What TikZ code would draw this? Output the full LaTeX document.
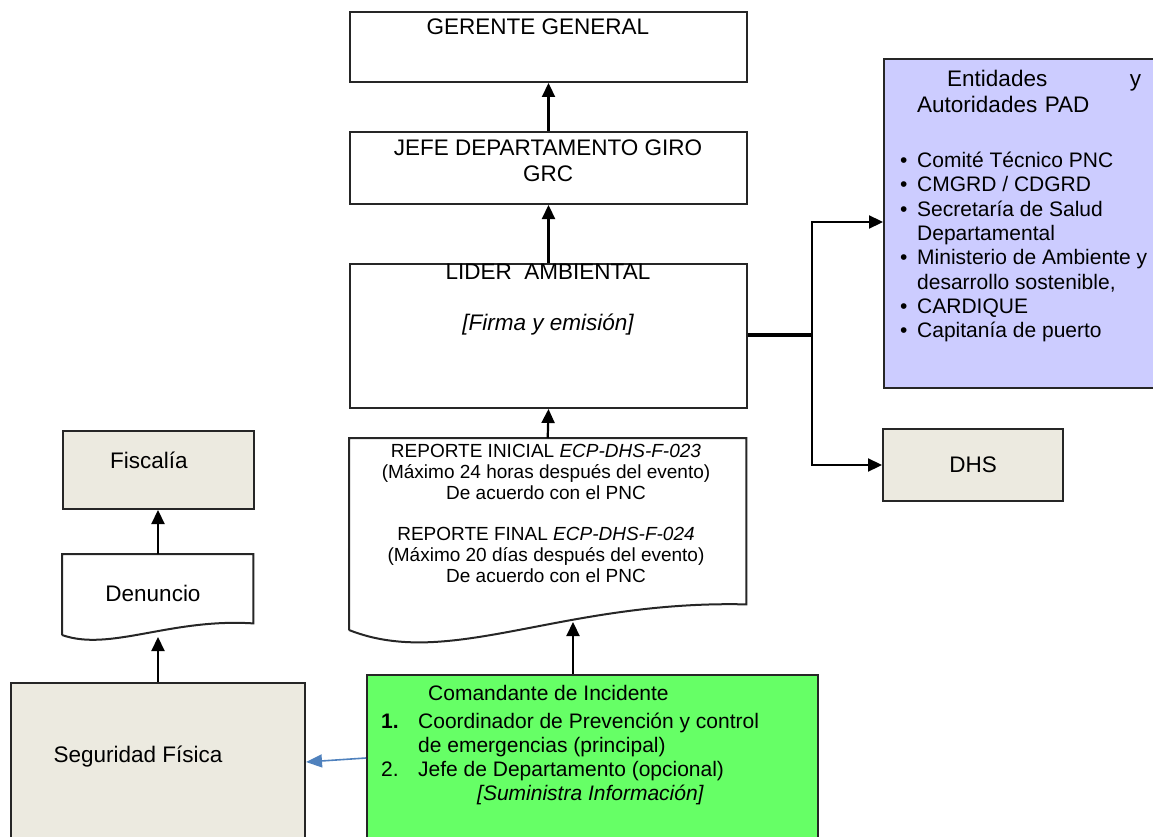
\documentclass[tikz,border=0pt]{standalone}
\usepackage{fontspec}
\setmainfont{Liberation Sans}
\usetikzlibrary{arrows.meta,positioning}

\definecolor{beige}{HTML}{ECEAE0}
\definecolor{lila}{HTML}{CCCCFF}
\definecolor{verde}{HTML}{66FF66}
\definecolor{azul}{HTML}{4F81BD}

\tikzset{
  caja/.style={draw=black!85, line width=2pt, rectangle, inner sep=0pt, anchor=north west},
  texto/.style={anchor=base, inner sep=0pt, font=\fontsize{22.5}{26}\selectfont},
  flecha/.style={line width=2.2pt, -{Triangle[length=14pt,width=13pt]}},
}

\begin{document}
\begin{tikzpicture}[x=1pt, y=-1pt]
    \useasboundingbox (0,0) rectangle (1153,837);

    % cadena central
    \node[caja, minimum width=397pt, minimum height=70pt] (gerente) at (349,11) {};
    \node[texto] (gerente-t) at (538,35) {GERENTE GENERAL};

    \node[caja, minimum width=397pt, minimum height=72pt] (jefe) at (349,131) {};
    \node[texto, anchor=north, align=center, font=\fontsize{22.5}{26}\selectfont] (jefe-t) at (548,140) {JEFE DEPARTAMENTO GIRO\\GRC};

    \node[caja, minimum width=397pt, minimum height=144pt] (lider) at (349,263) {};
    \node[texto] (lider-t) at (548,279) {LIDER\ \ AMBIENTAL};
    \node[texto, font=\fontsize{22.5}{26}\selectfont\itshape] (lider-s) at (548,330) {[Firma y emisión]};

    % reportes (documento)
    \node[inner sep=0pt, minimum width=397pt, minimum height=166pt, anchor=north west] (reporte) at (349,438) {};
    \draw[draw=black!85, line width=2pt] (349,630) |- (reporte.north east) -- (reporte.south east)
        .. controls (560,600) and (450,670) .. (349,630);
    \node[anchor=north, inner sep=0pt, align=center, font=\fontsize{19}{21}\selectfont] (reporte-t) at (546,444)
        {REPORTE INICIAL \textit{ECP-DHS-F-023}\\
         (Máximo 24 horas después del evento)\\
         De acuerdo con el PNC\\[20pt]
         REPORTE FINAL \textit{ECP-DHS-F-024}\\
         (Máximo 20 días después del evento)\\
         De acuerdo con el PNC};
    \coordinate (reporte-w) at (573,622);

    % comandante
    \node[caja, fill=verde, minimum width=451pt, minimum height=175pt] (comandante) at (366,674) {};
    \node[anchor=north west, inner sep=0pt, align=left, font=\fontsize{21}{24}\selectfont] (comandante-t) at (381,685)
        {\hspace*{47pt}Comandante de Incidente\\[4pt]
         \makebox[37pt][l]{\textbf{1.}}Coordinador de Prevención y control\\
         \hspace*{37pt}de emergencias (principal)\\
         \makebox[37pt][l]{2.}Jefe de Departamento (opcional)\\
         \hspace*{96pt}\textit{[Suministra Información]}};

    % rama izquierda
    \node[caja, fill=beige, minimum width=294pt, minimum height=160pt] (seguridad) at (10,682) {};
    \node[texto] (seguridad-t) at (138,762) {Seguridad Física};

    \node[inner sep=0pt, minimum width=191pt, minimum height=69pt, anchor=north west] (denuncio) at (62,554) {};
    \draw[draw=black!85, line width=2pt] (62,635) |- (denuncio.north east) -- (denuncio.south east)
        .. controls (170,618) and (110,652) .. (62,635);
    \node[texto] (denuncio-t) at (153,601) {Denuncio};
    \coordinate (denuncio-w) at (158,637);

    \node[caja, fill=beige, minimum width=191pt, minimum height=78pt] (fiscalia) at (62,430) {};
    \node[texto] (fiscalia-t) at (149,468) {Fiscalía};

    % rama derecha
    \node[caja, fill=lila, minimum width=275pt, minimum height=329pt] (entidades) at (883,58) {};
    \node[anchor=north west, inner sep=0pt, align=left, text width=224pt, font=\fontsize{22.5}{26}\selectfont] (entidades-t) at (917,70)
        {\hspace*{30pt}Entidades\hfill y\\Autoridades PAD};
    \node[anchor=north west, inner sep=0pt, align=left, font=\fontsize{21}{24.3}\selectfont] (entidades-l) at (900,152)
        {\makebox[17pt][l]{\textbullet}Comité Técnico PNC\\
         \makebox[17pt][l]{\textbullet}CMGRD / CDGRD\\
         \makebox[17pt][l]{\textbullet}Secretaría de Salud\\
         \hspace*{17pt}Departamental\\
         \makebox[17pt][l]{\textbullet}Ministerio de Ambiente y\\
         \hspace*{17pt}desarrollo sostenible,\\
         \makebox[17pt][l]{\textbullet}CARDIQUE\\
         \makebox[17pt][l]{\textbullet}Capitanía de puerto};

    \node[caja, fill=beige, minimum width=180pt, minimum height=72pt, font=\fontsize{22.5}{26}\selectfont] (dhs) at (882,428) {DHS};

    % conectores
    \draw[flecha] (jefe.north) -- (gerente.south);
    \draw[flecha] (lider.north) -- (jefe.south);
    \draw[flecha] (reporte.north) -- (lider.south);
    \draw[flecha] (comandante.north -| reporte-w) -- (reporte-w);
    \draw[flecha] (seguridad.north -| denuncio-w) -- (denuncio-w);
    \draw[flecha] (denuncio.north -| denuncio-w) -- (fiscalia.south -| denuncio-w);
    \coordinate (nudo) at (812,335);
    \draw[line width=4pt] (lider.east |- nudo) -- (nudo);
    \draw[flecha] (nudo) |- (entidades.west |- 0,222);
    \draw[flecha] (nudo) |- (dhs.west);
    \draw[azul, line width=1.6pt, -{Triangle[length=16pt,width=13pt]}] (comandante.west |- 0,758) -- (seguridad.east |- 0,762);
\end{tikzpicture}
\end{document}
